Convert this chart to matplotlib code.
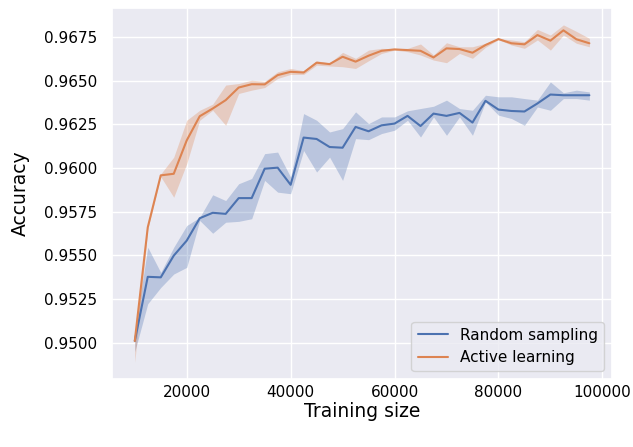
import matplotlib
matplotlib.use("Agg")
import matplotlib.pyplot as plt
import numpy as np
import seaborn as sns

# training set sizes (10k .. 97.5k, every 2.5k)
sizes = np.arange(10000, 100000, 2500)

# random sampling: mean accuracy and band
rand_mean = [0.95011, 0.95378, 0.95375, 0.95499, 0.95585, 0.95713, 0.95744, 0.95738,
             0.95828, 0.95828, 0.95996, 0.96002, 0.95904, 0.96174, 0.96166, 0.96120,
             0.96116, 0.96235, 0.96210, 0.96244, 0.96254, 0.96298, 0.96240, 0.96311,
             0.96298, 0.96315, 0.96260, 0.96384, 0.96334, 0.96326, 0.96323, 0.96369,
             0.96420, 0.96416, 0.96416, 0.96416]
rand_low = [0.94950, 0.95224, 0.95317, 0.95394, 0.95432, 0.95700, 0.95627, 0.95690,
            0.95695, 0.95710, 0.95929, 0.95862, 0.95853, 0.96100, 0.95977, 0.96062,
            0.95929, 0.96168, 0.96162, 0.96197, 0.96216, 0.96273, 0.96177, 0.96292,
            0.96187, 0.96292, 0.96187, 0.96378, 0.96302, 0.96283, 0.96244, 0.96349,
            0.96330, 0.96397, 0.96397, 0.96388]
rand_high = [0.95060, 0.95547, 0.95403, 0.95547, 0.95671, 0.95718, 0.95847, 0.95814,
             0.95910, 0.95940, 0.96082, 0.96091, 0.95948, 0.96311, 0.96273, 0.96206,
             0.96225, 0.96321, 0.96254, 0.96292, 0.96292, 0.96327, 0.96340, 0.96353,
             0.96388, 0.96340, 0.96330, 0.96416, 0.96407, 0.96407, 0.96397, 0.96388,
             0.96492, 0.96430, 0.96445, 0.96435]

# active learning: mean accuracy and band
act_mean = [0.95011, 0.95661, 0.95958, 0.95967, 0.96158, 0.96296, 0.96340, 0.96388,
            0.96460, 0.96479, 0.96478, 0.96531, 0.96550, 0.96546, 0.96602, 0.96594,
            0.96636, 0.96608, 0.96642, 0.96670, 0.96678, 0.96674, 0.96670, 0.96632,
            0.96684, 0.96680, 0.96659, 0.96703, 0.96737, 0.96713, 0.96707, 0.96760,
            0.96728, 0.96787, 0.96736, 0.96713]
act_low = [0.94890, 0.95650, 0.95950, 0.95833, 0.96025, 0.96273, 0.96330, 0.96244,
           0.96426, 0.96445, 0.96460, 0.96512, 0.96535, 0.96535, 0.96588, 0.96583,
           0.96579, 0.96569, 0.96613, 0.96655, 0.96674, 0.96665, 0.96646, 0.96617,
           0.96602, 0.96655, 0.96627, 0.96690, 0.96734, 0.96703, 0.96684, 0.96732,
           0.96674, 0.96760, 0.96713, 0.96693]
act_high = [0.95020, 0.95672, 0.95966, 0.96062, 0.96273, 0.96330, 0.96365, 0.96474,
            0.96483, 0.96502, 0.96495, 0.96550, 0.96569, 0.96556, 0.96613, 0.96600,
            0.96661, 0.96627, 0.96674, 0.96684, 0.96682, 0.96684, 0.96709, 0.96646,
            0.96716, 0.96693, 0.96693, 0.96713, 0.96740, 0.96732, 0.96722, 0.96792,
            0.96760, 0.96818, 0.96781, 0.96741]

sns.set_theme(style="darkgrid")
plt.rcParams.update({"text.color": "black", "axes.labelcolor": "black",
                     "xtick.color": "black", "ytick.color": "black"})
blue, orange = sns.color_palette("deep")[:2]

fig = plt.figure(figsize=(6.33, 4.47), dpi=100)
ax = fig.add_axes([0.177, 0.152, 0.790, 0.830])

ax.fill_between(sizes, rand_low, rand_high, color=blue, alpha=0.3, linewidth=0)
ax.plot(sizes, rand_mean, color=blue, lw=1.5, label="Random sampling")
ax.fill_between(sizes, act_low, act_high, color=orange, alpha=0.3, linewidth=0)
ax.plot(sizes, act_mean, color=orange, lw=1.5, label="Active learning")

ax.set_xticks([20000, 40000, 60000, 80000, 100000])
ax.set_yticks(np.arange(0.95, 0.9676, 0.0025))
ax.yaxis.set_major_formatter(matplotlib.ticker.FormatStrFormatter("%.4f"))
ax.tick_params(length=0)
ax.tick_params(axis="y", labelsize=11, pad=10.5)
ax.tick_params(axis="x", labelsize=11, pad=4)
ax.set_xlabel("Training size", fontsize=13.5, labelpad=2)
ax.set_ylabel("Accuracy", fontsize=13.5, labelpad=10)
ax.legend(loc="lower right", fontsize=11)

fig.savefig("out.png", dpi=100)
